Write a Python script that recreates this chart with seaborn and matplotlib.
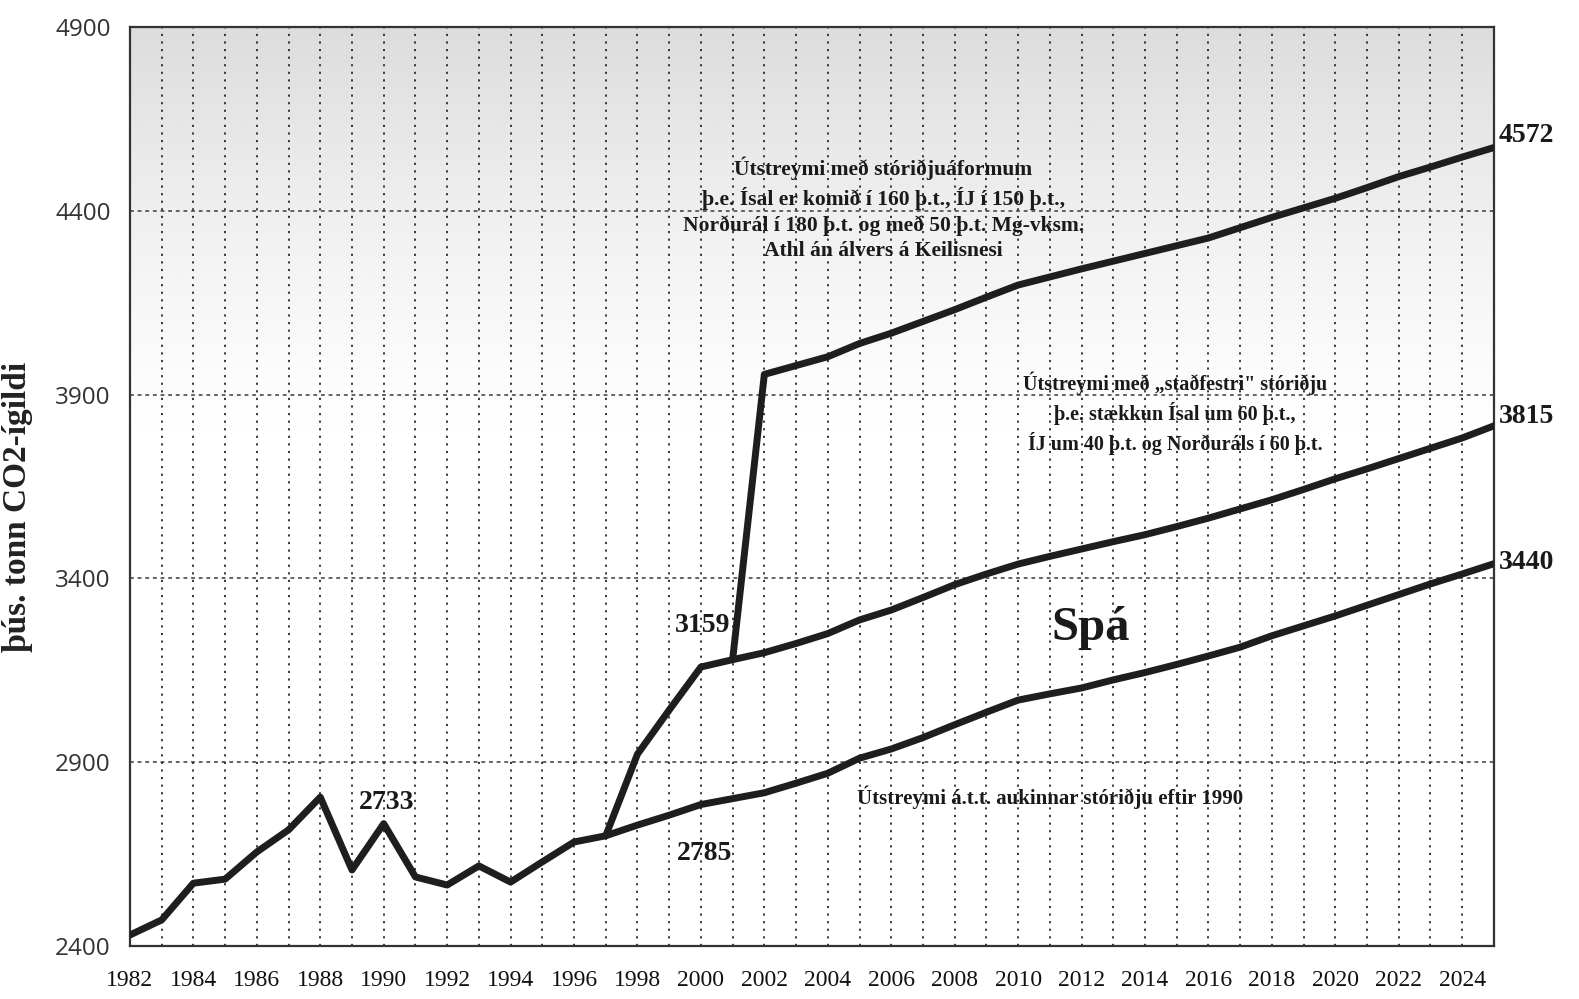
import numpy as np
import pandas as pd
import matplotlib
matplotlib.use("Agg")
import matplotlib.pyplot as plt
from matplotlib.ticker import MultipleLocator, FuncFormatter
import seaborn as sns

# ---- data -----------------------------------------------------------
hist_years = list(range(1982, 1998))
hist_vals = [2430, 2471, 2571, 2582, 2656, 2716, 2805, 2607, 2733, 2588,
             2566, 2618, 2574, 2629, 2683, 2700]

base_years = list(range(1997, 2026))
base_vals = [2700, 2729, 2756, 2785, 2801, 2817, 2843, 2870, 2911, 2936,
             2967, 3002, 3036, 3069, 3086, 3102, 3124, 3144, 3166, 3189,
             3213, 3244, 3271, 3298, 3327, 3356, 3385, 3412, 3440]

conf_years = list(range(1997, 2026))
conf_vals = [2700, 2922, 3042, 3159, 3179, 3198, 3223, 3250, 3287, 3314,
             3348, 3383, 3412, 3439, 3460, 3480, 3500, 3519, 3541, 3564,
             3589, 3614, 3642, 3671, 3698, 3726, 3754, 3782, 3815]

plan_years = list(range(2001, 2026))
plan_vals = [3179, 3955, 3979, 4003, 4039, 4067, 4099, 4131, 4165, 4198,
             4220, 4242, 4263, 4284, 4305, 4326, 4354, 4382, 4408, 4434,
             4463, 4493, 4519, 4546, 4572]

y_ticks = [2400, 2900, 3400, 3900, 4400, 4900]
x_label_years = list(range(1982, 2025, 2))
y_title = "þús. tonn CO2-ígildi"
note_plan = ("Útstreymi með stóriðjuáformum\n"
             "þ.e. Ísal er komið í 160 þ.t., ÍJ í 150 þ.t.,\n"
             "Norðurál í 180 þ.t. og með 50 þ.t. Mg-vksm.\n"
             "Athl án álvers á Keilisnesi")
note_conf = ("Útstreymi með „staðfestri\" stóriðju\n"
             "þ.e. stækkun Ísal um 60 þ.t.,\n"
             "ÍJ um 40 þ.t. og Norðuráls í 60 þ.t.")
note_base = "Útstreymi á.t.t. aukinnar stóriðju eftir 1990"
note_spa = "Spá"

df = pd.concat([
    pd.DataFrame({"year": hist_years, "value": hist_vals, "series": "hist"}),
    pd.DataFrame({"year": base_years, "value": base_vals, "series": "base"}),
    pd.DataFrame({"year": conf_years, "value": conf_vals, "series": "conf"}),
    pd.DataFrame({"year": plan_years, "value": plan_vals, "series": "plan"}),
])

# ---- style ----------------------------------------------------------
sns.set_style("white")
plt.rcParams["font.family"] = ["Liberation Serif", "DejaVu Serif"]

fig = plt.figure(figsize=(15.79, 9.99), dpi=100)
ax = fig.add_axes([0.0823, 0.053, 0.8638, 0.920])

# shaded (stippled) top region as a vertical gradient
grad = np.linspace(0, 1, 400).reshape(-1, 1)  # 0 bottom -> 1 top
shade = np.clip((grad - 0.55) / 0.45, 0, 1) ** 1.3
img = np.ones((400, 1, 4))
img[..., 0:3] = 0.6
img[..., 3] = shade * 0.34
ax.imshow(img, origin="lower", aspect="auto",
          extent=(1982, 2025, 2400, 4900), zorder=0, interpolation="bilinear")

for name, grp in df.groupby("series", sort=False):
    sns.lineplot(data=grp, x="year", y="value", ax=ax, color="#1e1e1e",
                 linewidth=5.0, solid_joinstyle="round", solid_capstyle="round",
                 zorder=5, legend=False)

ax.set_xlim(1982, 2025)
ax.set_ylim(2400, 4900)

# grid
for yr in range(1983, 2025):
    ax.axvline(yr, color="#2a2a2a", lw=1.3, ls=(0, (1.2, 3.0)), zorder=1)
for yv in y_ticks[1:-1]:
    ax.axhline(yv, color="#3a3a3a", lw=1.1, ls=(0, (2.5, 2.5)), zorder=1)

# ticks
ax.xaxis.set_major_locator(MultipleLocator(1))
ax.xaxis.set_major_formatter(FuncFormatter(
    lambda v, p: str(int(round(v))) if int(round(v)) in x_label_years else ""))
ax.set_yticks(y_ticks)
ax.tick_params(axis="x", direction="inout", length=12, width=1.2,
               labelsize=17, pad=11, color="#222", labelcolor="#111")
ax.tick_params(axis="y", direction="out", length=6, width=1.0,
               labelsize=17.5, pad=8, color="#444", labelcolor="#333")
for lab in ax.get_yticklabels():
    lab.set_fontfamily("Open Sans")
ax.set_xlabel("")
ax.set_ylabel(y_title, fontsize=24, fontweight="bold", color="#222")
ax.yaxis.set_label_coords(-0.071, 0.478)

for sp in ax.spines.values():
    sp.set_visible(True)
    sp.set_color("#333")
    sp.set_linewidth(1.6)

# annotations
ax.text(2005.75, 4405, note_plan, ha="center", va="center", fontsize=15.5,
        fontweight="bold", linespacing=1.35, color="#1a1a1a", zorder=6)
ax.text(2014.95, 3850, note_conf, ha="center", va="center", fontsize=14.5,
        fontweight="bold", linespacing=1.4, color="#1a1a1a", zorder=6)
ax.text(2011.0, 2805, note_base, ha="center", va="center", fontsize=15,
        fontweight="bold", color="#1a1a1a", zorder=6)
ax.text(2012.3, 3265, note_spa, ha="center", va="center", fontsize=35,
        fontweight="bold", color="#1a1a1a", zorder=6)

lbl_kw = dict(fontsize=20, fontweight="bold", color="#1a1a1a", zorder=6)
ax.text(1990.1, 2790, str(hist_vals[hist_years.index(1990)]), ha="center", va="center", **lbl_kw)
ax.text(2000.05, 3272, str(conf_vals[conf_years.index(2000)]), ha="center", va="center", **lbl_kw)
ax.text(2000.1, 2652, str(base_vals[base_years.index(2000)]), ha="center", va="center", **lbl_kw)
ax.text(2025.15, plan_vals[-1] + 32, str(plan_vals[-1]), ha="left", va="center", clip_on=False, **lbl_kw)
ax.text(2025.15, conf_vals[-1] + 25, str(conf_vals[-1]), ha="left", va="center", clip_on=False, **lbl_kw)
ax.text(2025.15, base_vals[-1] + 2, str(base_vals[-1]), ha="left", va="center", clip_on=False, **lbl_kw)

fig.savefig("out.png", dpi=100, facecolor="white")
